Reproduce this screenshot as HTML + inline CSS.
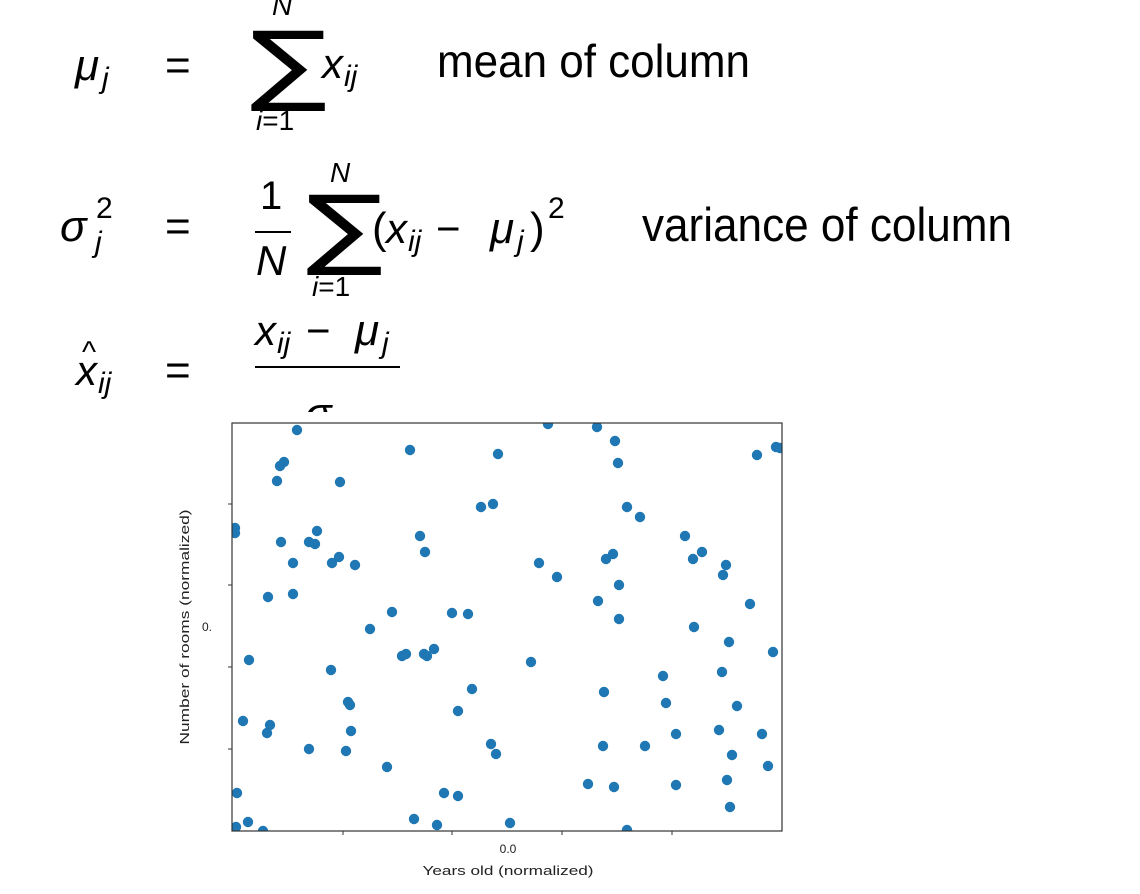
<!DOCTYPE html>
<html><head><meta charset="utf-8"><style>
html,body{margin:0;padding:0;background:#fff;}
svg{display:block;}
.m{font-family:"Liberation Sans",sans-serif;fill:#000;}
.it{font-style:italic;}
</style></head><body>
<svg id="root" width="1140" height="894" viewBox="0 0 1140 894" xmlns="http://www.w3.org/2000/svg">
<defs><clipPath id="eqclip"><rect x="0" y="0" width="1140" height="412"/></clipPath>
<clipPath id="plotclip"><rect x="232" y="423" width="550" height="408"/></clipPath></defs>
<g class="m" clip-path="url(#eqclip)">
 <g>
  <text x="75" y="80" font-size="44" class="it">μ</text><text x="102" y="88" font-size="30" class="it">j</text>
  <text x="165" y="80" font-size="44">=</text>
  <text x="0" y="94" font-size="88" transform="translate(250,0) scale(1.3,1)" font-family="DejaVu Sans, sans-serif">∑</text>
  <text x="272" y="15" font-size="28" class="it">N</text>
  <text x="256" y="130" font-size="28"><tspan class="it">i</tspan>=1</text>
  <text x="322" y="78" font-size="42" class="it">x</text><text x="344" y="86" font-size="30" class="it">ij</text>
  <text x="437" y="77" font-size="46" textLength="313" lengthAdjust="spacingAndGlyphs">mean of column</text>
 </g>
 <g>
  <text x="60" y="241" font-size="44" class="it">σ</text><text x="96" y="218" font-size="30">2</text><text x="95" y="252" font-size="30" class="it">j</text>
  <text x="165" y="241" font-size="44">=</text>
  <text x="260" y="209" font-size="40">1</text>
  <rect x="255" y="231" width="36" height="2" fill="#000"/>
  <text x="256" y="275" font-size="42" class="it">N</text>
  <text x="0" y="258" font-size="88" transform="translate(306,0) scale(1.3,1)" font-family="DejaVu Sans, sans-serif">∑</text>
  <text x="330" y="182" font-size="28" class="it">N</text>
  <text x="312" y="296" font-size="28"><tspan class="it">i</tspan>=1</text>
  <text x="372" y="243" font-size="44">(</text>
  <text x="386" y="243" font-size="42" class="it">x</text><text x="408" y="251" font-size="30" class="it">ij</text>
  <text x="436" y="243" font-size="42">−</text>
  <text x="490" y="243" font-size="44" class="it">μ</text><text x="517" y="251" font-size="30" class="it">j</text>
  <text x="530" y="243" font-size="44">)</text><text x="548" y="218" font-size="30">2</text>
  <text x="642" y="241" font-size="47" textLength="370" lengthAdjust="spacingAndGlyphs">variance of column</text>
 </g>
 <g>
  <text x="76" y="385" font-size="42" class="it">x</text><text x="82" y="362" font-size="30">^</text><text x="98" y="393" font-size="30" class="it">ij</text>
  <text x="165" y="385" font-size="44">=</text>
  <text x="255" y="345" font-size="42" class="it">x</text><text x="277" y="353" font-size="30" class="it">ij</text>
  <text x="306" y="345" font-size="42">−</text>
  <text x="355" y="345" font-size="44" class="it">μ</text><text x="382" y="353" font-size="30" class="it">j</text>
  <rect x="255" y="366" width="145" height="2" fill="#000"/>
  <text x="305" y="428" font-size="44" class="it">σ</text><text x="338" y="436" font-size="30" class="it">j</text>
 </g>
</g>
<g id="chart"></g>
</svg>
<script>
const xVals=[65,178,48,52,45,108,249,3,3,85,49,77,83,188,193,61,100,107,123,36,61,160,220,236,138,17,170,174,192,195,202,99,240,226,116,118,11,38,35,119,77,114,155,5,212,226,16,4,182,205,31,316,365,383,266,386,525,544,548,261,395,408,453,461,470,494,491,374,381,307,325,387,366,518,387,462,497,541,299,431,490,372,434,505,487,530,444,259,264,371,413,500,536,356,382,444,495,498,278,395];
const yVals=[401,381,365,369,350,349,324,303,298,300,289,289,287,295,279,268,268,274,266,234,237,219,218,217,202,171,175,177,177,175,182,161,142,120,129,126,110,106,98,100,82,80,64,38,38,35,9,4,12,6,0,407,404,390,377,368,376,384,383,327,324,314,295,272,279,266,256,272,277,268,254,246,230,227,212,204,189,179,169,155,159,139,128,125,101,97,97,87,77,85,85,76,65,47,44,46,51,24,8,1];
const xTicks=[111,220,330,440];
const yTicks=[82,164,246,327];
const xTickLabel="0.0", yTickLabel="0.";
const NS="http://www.w3.org/2000/svg";
const X0=232,X1=782,Y0=831,Y1=423,XMAX=550,YMAX=408;
const sx=v=>X0+v/XMAX*(X1-X0);
const sy=v=>Y0-v/YMAX*(Y0-Y1);
const chart=document.getElementById('chart');
function mk(tag,attrs,parent){const e=document.createElementNS(NS,tag);for(const k in attrs)e.setAttribute(k,attrs[k]);(parent||chart).appendChild(e);return e;}
const bg=mk('rect',{x:165,y:413,width:640,height:481,fill:'#fff'});


const pts=mk('g',{'clip-path':'url(#plotclip)'});


for(let i=0;i<xVals.length;i++){
 const c=mk('circle',{cx:sx(xVals[i]),cy:sy(yVals[i]),r:5.2,fill:'#1f77b4'},pts);
 
 
}
const frame=mk('rect',{x:X0,y:Y1,width:X1-X0,height:Y0-Y1,fill:'none',stroke:'#333','stroke-width':1.2});


xTicks.forEach(t=>{const l=mk('line',{x1:sx(t),x2:sx(t),y1:Y0,y2:Y0+4,stroke:'#333'});
 
 });
yTicks.forEach(t=>{const l=mk('line',{x1:X0-4,x2:X0,y1:sy(t),y2:sy(t),stroke:'#333'});
 
 });
const yl=mk('text',{x:212,y:631,'font-size':12,'text-anchor':'end',fill:'#222','font-family':'Liberation Sans, sans-serif'});
yl.textContent=yTickLabel;


const xl=mk('text',{x:508,y:853,'font-size':12,'text-anchor':'middle',fill:'#222','font-family':'Liberation Sans, sans-serif'});
xl.textContent=xTickLabel;


const yt=mk('text',{x:0,y:0,'font-size':13,'text-anchor':'middle',fill:'#222','font-family':'Liberation Sans, sans-serif',transform:'translate(189,627) rotate(-90)',textLength:235,lengthAdjust:'spacingAndGlyphs'});
yt.textContent='Number of rooms (normalized)';


const xt=mk('text',{x:508,y:875,'font-size':13,'text-anchor':'middle',fill:'#222','font-family':'Liberation Sans, sans-serif',textLength:171,lengthAdjust:'spacingAndGlyphs'});
xt.textContent='Years old (normalized)';


</script>
</body></html>
